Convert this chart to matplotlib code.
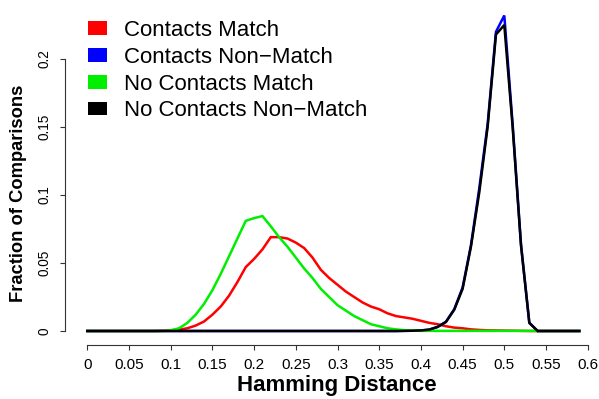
import matplotlib
matplotlib.use("Agg")
import matplotlib.pyplot as plt
from matplotlib.patches import Patch

plt.rcParams['font.family'] = ['Liberation Sans', 'DejaVu Sans']

# Hamming distance bins
hamming = [0.00, 0.01, 0.02, 0.03, 0.04, 0.05, 0.06, 0.07, 0.08, 0.09,
           0.10, 0.11, 0.12, 0.13, 0.14, 0.15, 0.16, 0.17, 0.18, 0.19,
           0.20, 0.21, 0.22, 0.23, 0.24, 0.25, 0.26, 0.27, 0.28, 0.29,
           0.30, 0.31, 0.32, 0.33, 0.34, 0.35, 0.36, 0.37, 0.38, 0.39,
           0.40, 0.41, 0.42, 0.43, 0.44, 0.45, 0.46, 0.47, 0.48, 0.49,
           0.50, 0.51, 0.52, 0.53, 0.54, 0.55, 0.56, 0.57, 0.58, 0.59]

contacts_match = [0, 0, 0, 0, 0, 0, 0, 0, 0, 0.0002,
                  0.0005, 0.001, 0.002, 0.004, 0.007, 0.012, 0.018, 0.026, 0.036, 0.047,
                  0.053, 0.060, 0.069, 0.069, 0.068, 0.065, 0.061, 0.054, 0.045, 0.039,
                  0.034, 0.029, 0.025, 0.021, 0.018, 0.016, 0.013, 0.011, 0.010, 0.009,
                  0.0075, 0.006, 0.005, 0.0035, 0.0025, 0.002, 0.0012, 0.0008, 0.0005, 0.0004,
                  0.0003, 0.0002, 0.0001, 0, 0, 0, 0, 0, 0, 0]

contacts_nonmatch = [0, 0, 0, 0, 0, 0, 0, 0, 0, 0,
                     0, 0, 0, 0, 0, 0, 0, 0, 0, 0,
                     0, 0, 0, 0, 0, 0, 0, 0, 0, 0,
                     0, 0, 0, 0, 0, 0, 0, 0, 0.0001, 0.0002,
                     0.0004, 0.001, 0.003, 0.0068, 0.016, 0.032, 0.063, 0.105, 0.152, 0.220,
                     0.232, 0.152, 0.064, 0.006, 0, 0, 0, 0, 0, 0]

nocontacts_match = [0, 0, 0, 0, 0, 0, 0, 0, 0, 0,
                    0.0005, 0.002, 0.006, 0.012, 0.020, 0.030, 0.042, 0.055, 0.068, 0.081,
                    0.083, 0.0845, 0.077, 0.069, 0.062, 0.054, 0.046, 0.039, 0.031, 0.025,
                    0.019, 0.015, 0.011, 0.008, 0.005, 0.0035, 0.002, 0.0012, 0.0006, 0.0003,
                    0.0001, 0.0001, 0.0001, 0.0001, 0.0001, 0.0001, 0.0001, 0.0001, 0.0001, 0.0001,
                    0.0001, 0.0001, 0.0001, 0.0001, 0, 0, 0, 0, 0, 0]

nocontacts_nonmatch = [0, 0, 0, 0, 0, 0, 0, 0, 0, 0,
                       0, 0, 0, 0, 0, 0, 0, 0, 0, 0,
                       0, 0, 0, 0, 0, 0, 0, 0, 0, 0,
                       0, 0, 0, 0, 0, 0, 0, 0, 0.0001, 0.0002,
                       0.0004, 0.001, 0.003, 0.0066, 0.0157, 0.031, 0.062, 0.102, 0.150, 0.218,
                       0.225, 0.150, 0.063, 0.006, 0, 0, 0, 0, 0, 0]

series_names = ["Contacts Match", "Contacts Non\u2212Match",
                "No Contacts Match", "No Contacts Non\u2212Match"]
series_colors = ["#ff0000", "#0000ff", "#00ee00", "#000000"]

x_ticks = [0, 0.05, 0.1, 0.15, 0.2, 0.25, 0.3, 0.35, 0.4, 0.45, 0.5, 0.55, 0.6]
x_ticklabels = ["0", "0.05", "0.1", "0.15", "0.2", "0.25", "0.3", "0.35",
                "0.4", "0.45", "0.5", "0.55", "0.6"]
y_ticks = [0, 0.05, 0.1, 0.15, 0.2]
y_ticklabels = ["0", "0.05", "0.1", "0.15", "0.2"]

W, H = 599, 399
fig = plt.figure(figsize=(W / 100, H / 100), dpi=100)
ax = fig.add_axes([65 / W, (H - 345) / H, (W - 65) / W, 345 / H])

all_series = [contacts_match, contacts_nonmatch, nocontacts_match, nocontacts_nonmatch]
for vals, col in zip(all_series, series_colors):
    ax.plot(hamming, vals, color=col, lw=1.8, solid_joinstyle='miter')

ax.set_xlim(-22.3 / 834, (W - 87.3) / 834)
ax.set_ylim(-14 / 1360, 331 / 1360)

for s in ['top', 'right']:
    ax.spines[s].set_visible(False)
ax.spines['bottom'].set_bounds(0, 0.6)
ax.spines['left'].set_bounds(0, 0.2)
for s in ['bottom', 'left']:
    ax.spines[s].set_linewidth(0.8)
    ax.spines[s].set_color('#333333')

ax.set_xticks(x_ticks)
ax.set_xticklabels(x_ticklabels, fontsize=11)
ax.set_yticks(y_ticks)
ax.set_yticklabels(y_ticklabels, fontsize=9.8, rotation=90, va='center')
ax.tick_params(axis='x', direction='out', length=3.6, width=0.8, color='#333333', pad=6)
ax.tick_params(axis='y', direction='out', length=3.6, width=0.8, color='#333333', pad=6)

ax.set_xlabel("Hamming Distance", fontsize=16, fontweight='bold')
ax.xaxis.set_label_coords((337 - 65) / (W - 65), -(385 - 345) / 345)
ax.xaxis.label.set_va('center')
ax.set_ylabel("Fraction of Comparisons", fontsize=13.2, fontweight='bold')
ax.yaxis.set_label_coords(-(65 - 19) / (W - 65), (345 - 193) / 345)
ax.yaxis.label.set_va('center')

handles = [Patch(facecolor=c, edgecolor='none') for c in series_colors]
fs = 16
leg = ax.legend(handles, series_names, loc='upper left',
                bbox_to_anchor=(87.7 / W, 1 - 20 / H), bbox_transform=fig.transFigure,
                frameon=False, fontsize=fs, borderpad=0, borderaxespad=0,
                handlelength=0.86, handleheight=0.59, handletextpad=0.78,
                labelspacing=0.26)

fig.savefig("out.png", dpi=100)
